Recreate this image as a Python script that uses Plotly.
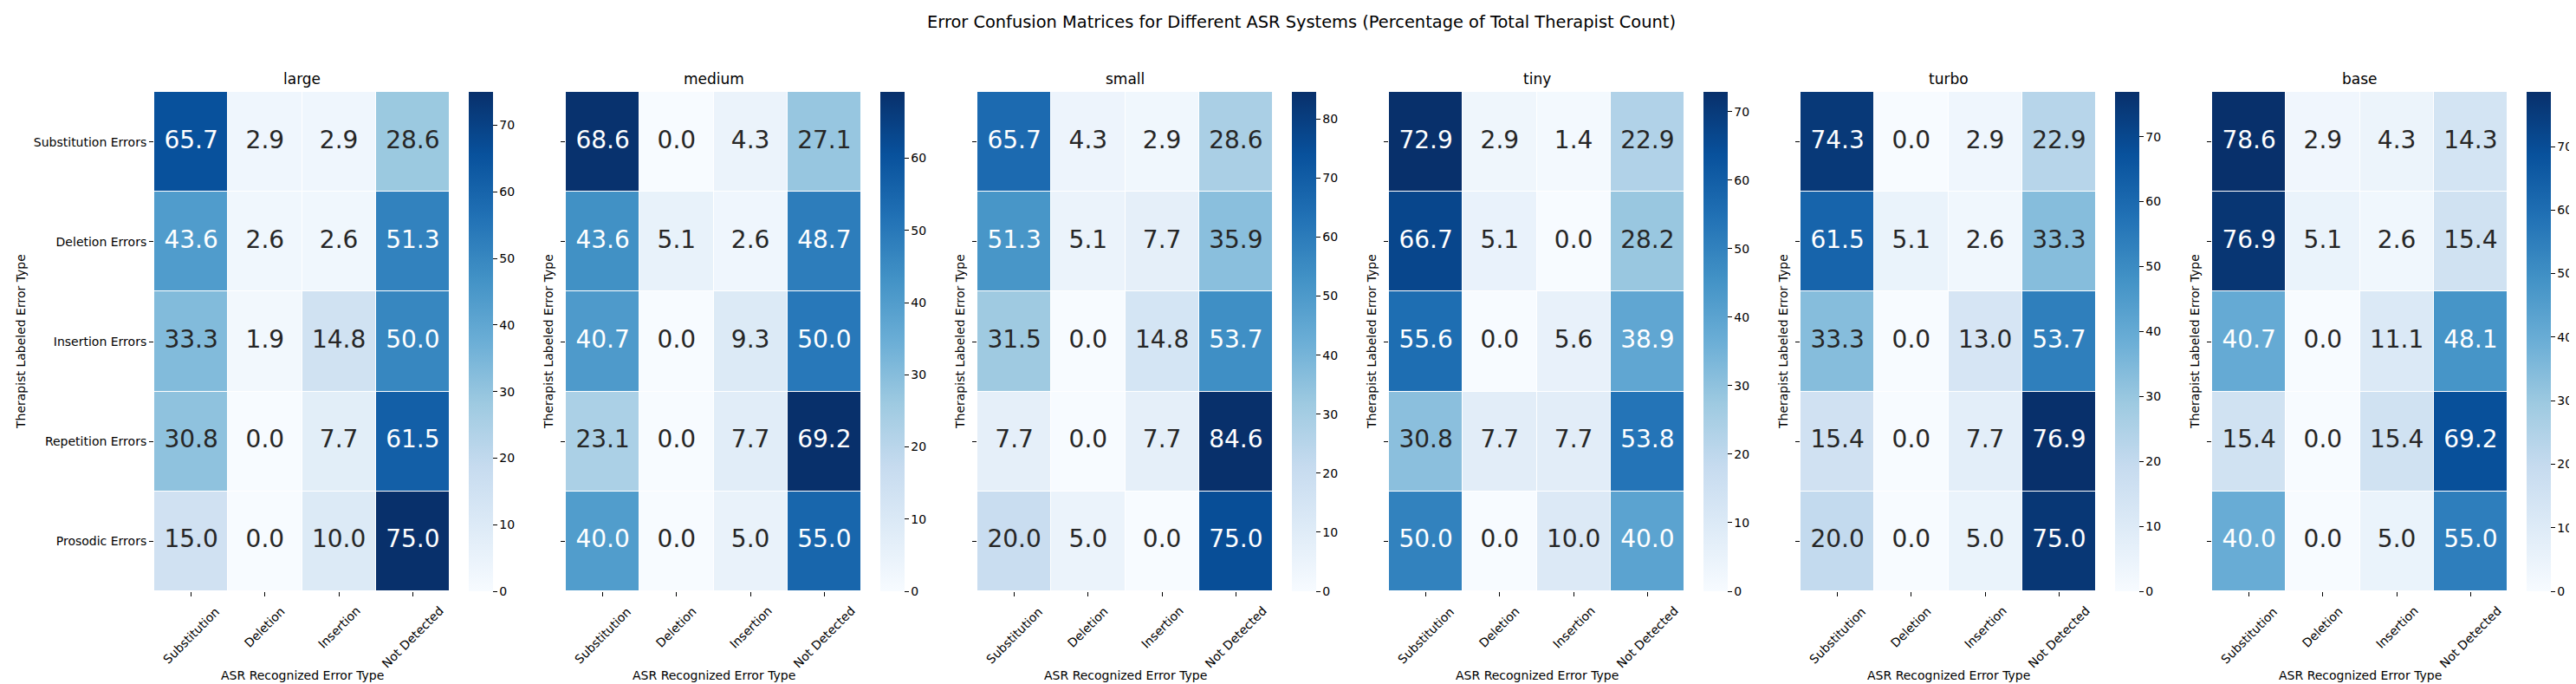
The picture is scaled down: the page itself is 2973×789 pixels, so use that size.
import numpy as np
import plotly.graph_objects as go

# data
models = ["large", "medium", "small", "tiny", "turbo", "base"]
asr_types = ["Substitution", "Deletion", "Insertion", "Not Detected"]
therapist_types = ["Substitution Errors", "Deletion Errors", "Insertion Errors",
                   "Repetition Errors", "Prosodic Errors"]

large = [[65.7, 2.9, 2.9, 28.6],
         [43.6, 2.6, 2.6, 51.3],
         [33.3, 1.9, 14.8, 50.0],
         [30.8, 0.0, 7.7, 61.5],
         [15.0, 0.0, 10.0, 75.0]]
medium = [[68.6, 0.0, 4.3, 27.1],
          [43.6, 5.1, 2.6, 48.7],
          [40.7, 0.0, 9.3, 50.0],
          [23.1, 0.0, 7.7, 69.2],
          [40.0, 0.0, 5.0, 55.0]]
small = [[65.7, 4.3, 2.9, 28.6],
         [51.3, 5.1, 7.7, 35.9],
         [31.5, 0.0, 14.8, 53.7],
         [7.7, 0.0, 7.7, 84.6],
         [20.0, 5.0, 0.0, 75.0]]
tiny = [[72.9, 2.9, 1.4, 22.9],
        [66.7, 5.1, 0.0, 28.2],
        [55.6, 0.0, 5.6, 38.9],
        [30.8, 7.7, 7.7, 53.8],
        [50.0, 0.0, 10.0, 40.0]]
turbo = [[74.3, 0.0, 2.9, 22.9],
         [61.5, 5.1, 2.6, 33.3],
         [33.3, 0.0, 13.0, 53.7],
         [15.4, 0.0, 7.7, 76.9],
         [20.0, 0.0, 5.0, 75.0]]
base = [[78.6, 2.9, 4.3, 14.3],
        [76.9, 5.1, 2.6, 15.4],
        [40.7, 0.0, 11.1, 48.1],
        [15.4, 0.0, 15.4, 69.2],
        [40.0, 0.0, 5.0, 55.0]]

matrices = [large, medium, small, tiny, turbo, base]

W, H = 2973, 789
FONT = "DejaVu Sans"

blues = [(247, 251, 255), (222, 235, 247), (198, 219, 239), (158, 202, 225),
         (107, 174, 214), (66, 146, 198), (33, 113, 181), (8, 81, 156), (8, 48, 107)]
blues_scale = [[i / 8, "rgb(%d,%d,%d)" % c] for i, c in enumerate(blues)]


def text_color(v, vmax):
    # same rule seaborn uses for annot colours
    t = v / vmax * 8
    k = min(int(t), 7)
    f = t - k
    rgb = np.array(blues[k]) * (1 - f) + np.array(blues[k + 1]) * f
    c = rgb / 255
    c = np.where(c <= 0.03928, c / 12.92, ((c + 0.055) / 1.055) ** 2.4)
    lum = 0.2126 * c[0] + 0.7152 * c[1] + 0.0722 * c[2]
    return "#262626" if lum > 0.408 else "white"


# pixel layout
left0, pitch, hm_w = 170, 475, 341
top, bottom = 98, 674
ydom = [1 - bottom / H, 1 - top / H]

fig = go.Figure()
annotations = []

for i, (name, mat) in enumerate(zip(models, matrices)):
    n = "" if i == 0 else str(i + 1)
    x0 = left0 + pitch * i
    x1 = x0 + hm_w
    vmax = max(max(r) for r in mat)

    fig.add_trace(go.Heatmap(
        z=mat, x=asr_types, y=therapist_types,
        colorscale=blues_scale, zmin=0, zmax=vmax,
        xgap=1, ygap=1, hoverinfo="skip",
        xaxis="x" + n, yaxis="y" + n,
        colorbar=dict(
            x=(x1 + 22) / W, xanchor="left", y=sum(ydom) / 2, yanchor="middle",
            len=ydom[1] - ydom[0], lenmode="fraction",
            thickness=28, thicknessmode="pixels", xpad=0, ypad=0,
            outlinewidth=0, ticks="outside", ticklen=5, tickwidth=1,
            tickcolor="black", tick0=0, dtick=10,
            tickfont=dict(family=FONT, size=14, color="black"),
        ),
    ))

    xs, ys, txt, cols = [], [], [], []
    for r, row in enumerate(mat):
        for c, v in enumerate(row):
            xs.append(asr_types[c])
            ys.append(therapist_types[r])
            txt.append("%.1f" % v)
            cols.append(text_color(v, vmax))
    fig.add_trace(go.Scatter(
        x=xs, y=ys, text=txt, mode="text",
        textfont=dict(family=FONT, size=28, color=cols),
        hoverinfo="skip", showlegend=False,
        xaxis="x" + n, yaxis="y" + n,
    ))

    fig.layout["xaxis" + n] = dict(
        domain=[x0 / W, x1 / W], anchor="y" + n,
        showticklabels=False, ticks="outside", ticklen=5, tickwidth=1,
        tickcolor="black", showgrid=False, zeroline=False, showline=False,
        categoryorder="array", categoryarray=asr_types,
    )
    fig.layout["yaxis" + n] = dict(
        domain=ydom, anchor="x" + n, autorange="reversed",
        showticklabels=(i == 0), ticks="outside", ticklen=5, tickwidth=1,
        tickcolor="black", showgrid=False, zeroline=False, showline=False,
        tickfont=dict(family=FONT, size=14, color="black"),
        categoryorder="array", categoryarray=therapist_types,
    )

    # rotated x tick labels, centred on the tick like matplotlib
    for lab in asr_types:
        annotations.append(dict(
            x=lab, xref="x" + n, y=1 - 686 / H, yref="paper",
            text=lab, textangle=-45, showarrow=False,
            xanchor="center", yanchor="top",
            font=dict(family=FONT, size=14, color="black"),
        ))

    cx = (x0 + x1) / 2 / W
    annotations.append(dict(
        x=cx, y=1 - 83 / H, xref="paper", yref="paper", text=name,
        showarrow=False, xanchor="center", yanchor="middle",
        font=dict(family=FONT, size=17, color="black"),
    ))
    annotations.append(dict(
        x=cx, y=1 - 771 / H, xref="paper", yref="paper",
        text="ASR Recognized Error Type", showarrow=False,
        xanchor="center", yanchor="middle",
        font=dict(family=FONT, size=14, color="black"),
    ))
    ylab_x = 16 if i == 0 else x0 - 20
    annotations.append(dict(
        x=ylab_x / W, y=sum(ydom) / 2, xref="paper", yref="paper",
        text="Therapist Labeled Error Type", textangle=-90, showarrow=False,
        xanchor="center", yanchor="middle",
        font=dict(family=FONT, size=14, color="black"),
    ))

annotations.append(dict(
    x=1494 / W, y=1 - 18 / H, xref="paper", yref="paper",
    text="Error Confusion Matrices for Different ASR Systems (Percentage of Total Therapist Count)",
    showarrow=False, xanchor="center", yanchor="middle",
    font=dict(family=FONT, size=19.4, color="black"),
))

fig.update_layout(
    width=W, height=H,
    margin=dict(l=0, r=0, t=0, b=0),
    paper_bgcolor="white", plot_bgcolor="white",
    annotations=annotations,
    font=dict(family=FONT),
)

fig.write_html("out.html")
